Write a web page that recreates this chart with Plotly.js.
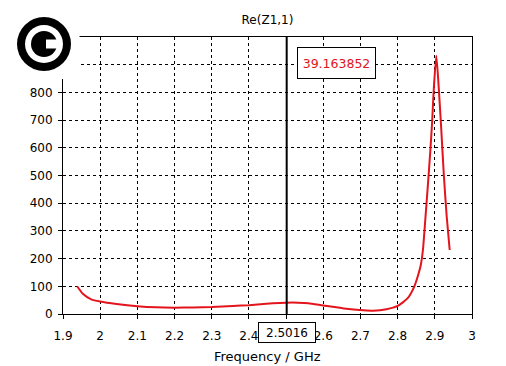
<!DOCTYPE html>
<html>
<head>
<meta charset="utf-8">
<script src="https://cdn.plot.ly/plotly-3.0.1.min.js"></script>
<style>html,body{margin:0;padding:0;background:#fff;}#chart{width:506px;height:366px;}</style>
</head>
<body>
<div id="chart"></div>
<script>
// Data
var freq = [1.938, 1.954, 1.976, 2.0, 2.044, 2.1, 2.151, 2.2, 2.25, 2.3, 2.357, 2.4, 2.447, 2.483, 2.5, 2.532, 2.56, 2.6, 2.662, 2.698, 2.734, 2.77, 2.8, 2.827, 2.845, 2.855, 2.862, 2.868, 2.875, 2.881, 2.888, 2.893, 2.897, 2.904, 2.911, 2.917, 2.924, 2.932, 2.94];
var reZ = [100, 72, 53, 45, 36, 28, 24, 23, 23.5, 25, 29, 32, 37, 40, 41, 41, 39, 31, 19, 14, 12, 17, 29, 57, 100, 140, 175, 231, 351, 459, 591, 699, 807, 932, 807, 675, 507, 351, 231];
var xTickVals = [1.9, 2.0, 2.1, 2.2, 2.3, 2.4, 2.5, 2.6, 2.7, 2.8, 2.9, 3.0];
var xTickText = ["1.9", "2", "2.1", "2.2", "2.3", "2.4", "2.5", "2.6", "2.7", "2.8", "2.9", "3"];
var yTickVals = [0, 100, 200, 300, 400, 500, 600, 700, 800, 900, 1000];
var yTickText = ["0", "100", "200", "300", "400", "500", "600", "700", "800", "", ""];
var markerFreq = 2.5016;
var markerLabel = "2.5016";
var markerValue = "39.163852";
var chartTitle = "Re(Z1,1)";
var xTitle = "Frequency / GHz";

// layout geometry (pixels)
var W = 506, H = 366, L = 63, R = 34, T = 37, B = 52;
var PW = W - L - R, PH = H - T - B;
function px(x) { return (x - L) / PW; }
function py(y) { return (H - B - y) / PH; }

var font = "DejaVu Sans, Verdana, sans-serif";

var trace = {
  x: freq, y: reZ, type: "scatter", mode: "lines",
  line: {color: "#e3141c", width: 2, shape: "spline", smoothing: 0.6},
  hoverinfo: "skip"
};

var logoX = 44, logoY = 44;
var shapes = [
  {type: "line", xref: "x", yref: "paper", x0: markerFreq, x1: markerFreq, y0: 0, y1: 1, line: {color: "#000", width: 2}, layer: "above"},
  {type: "rect", xref: "paper", yref: "paper", x0: px(0), x1: px(79.5), y0: py(0), y1: py(79), fillcolor: "#fff", line: {width: 0}, layer: "above"},
  {type: "circle", xref: "paper", yref: "paper", x0: px(logoX - 27), x1: px(logoX + 27), y0: py(logoY - 27), y1: py(logoY + 27), fillcolor: "#000", line: {width: 0}, layer: "above"},
  {type: "circle", xref: "paper", yref: "paper", x0: px(logoX - 19), x1: px(logoX + 19), y0: py(logoY - 19), y1: py(logoY + 19), fillcolor: "#fff", line: {width: 0}, layer: "above"},
  {type: "circle", xref: "paper", yref: "paper", x0: px(logoX - 13), x1: px(logoX + 13), y0: py(logoY - 13), y1: py(logoY + 13), fillcolor: "#000", line: {width: 0}, layer: "above"},
  {type: "rect", xref: "paper", yref: "paper", x0: px(logoX + 2), x1: px(logoX + 15), y0: py(logoY - 4.5), y1: py(logoY + 4.5), fillcolor: "#fff", line: {width: 0}, layer: "above"}
];

var annotations = [
  {xref: "paper", yref: "paper", x: px(336.5), y: py(63), text: markerValue, showarrow: false,
   font: {family: font, size: 12.5, color: "#e3141c"}, bgcolor: "#fff", bordercolor: "#000", borderwidth: 1,
   borderpad: 0, width: 77, height: 30, xanchor: "center", yanchor: "middle"},
  {xref: "x", yref: "paper", x: markerFreq, y: py(332.5), text: markerLabel, showarrow: false,
   font: {family: font, size: 12, color: "#000"}, bgcolor: "#fff", bordercolor: "#000", borderwidth: 1,
   borderpad: 0, width: 56, height: 19, xanchor: "center", yanchor: "middle"},
  {xref: "paper", yref: "paper", x: 0.5, y: py(356), text: xTitle, showarrow: false,
   font: {family: font, size: 13, color: "#000"}, xanchor: "center", yanchor: "middle"}
];

var axisCommon = {
  showline: true, mirror: true, linecolor: "#000", linewidth: 1,
  ticks: "outside", ticklen: 4, tickcolor: "#000", tickwidth: 1,
  showgrid: true, gridcolor: "#000", gridwidth: 1, griddash: "3px,3px",
  zeroline: false, tickfont: {family: font, size: 12, color: "#000"},
  fixedrange: true
};

var layout = {
  width: W, height: H,
  margin: {l: L, r: R, t: T, b: B, pad: 0},
  paper_bgcolor: "#fff", plot_bgcolor: "#fff",
  showlegend: false,
  font: {family: font, color: "#000"},
  title: {text: chartTitle, font: {family: font, size: 12, color: "#000"}, x: 0.5, xref: "paper", y: 1 - 20 / H, yref: "container", yanchor: "middle"},
  xaxis: Object.assign({}, axisCommon, {
    range: [1.9, 3.0], tickmode: "array", tickvals: xTickVals, ticktext: xTickText, ticklabelstandoff: 7
  }),
  yaxis: Object.assign({}, axisCommon, {
    range: [0, 1000], tickmode: "array", tickvals: yTickVals, ticktext: yTickText, ticklabelstandoff: 3
  }),
  shapes: shapes,
  annotations: annotations
};

Plotly.newPlot("chart", [trace], layout, {displayModeBar: false, staticPlot: true});
</script>
</body>
</html>
